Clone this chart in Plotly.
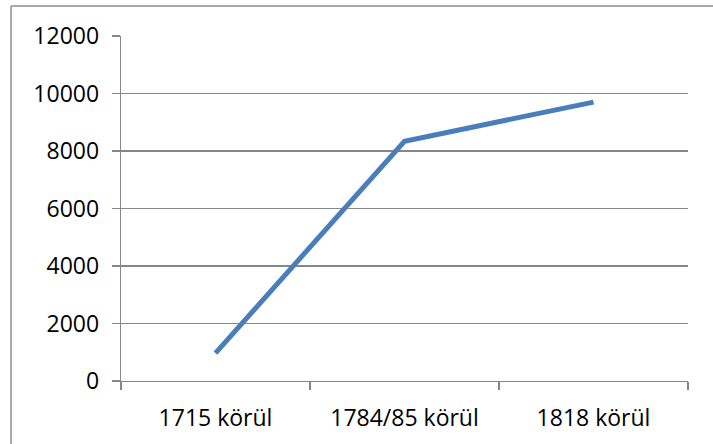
import plotly.graph_objects as go

categories = ["1715 körül", "1784/85 körül", "1818 körül"]
values = [970, 8340, 9700]
y_ticks = [0, 2000, 4000, 6000, 8000, 10000, 12000]

W, H = 713, 444
L, R, T, B = 121, 25, 36, 63
pw, ph = W - L - R, H - T - B

fig = go.Figure()
fig.add_trace(go.Scatter(
    x=categories, y=values, mode="lines",
    line=dict(color="#4A7EBB", width=5),
    hoverinfo="skip", showlegend=False,
))

grid = "#878787"
fig.update_layout(
    width=W, height=H,
    margin=dict(l=L, r=R, t=T, b=B, pad=0),
    paper_bgcolor="white", plot_bgcolor="white",
    font=dict(family="Open Sans", size=23, color="black"),
    showlegend=False,
    xaxis=dict(
        type="category", range=[-0.5, 2.5],
        tickson="boundaries", ticks="outside", ticklen=8, tickwidth=1.3,
        tickcolor=grid, showline=True, linecolor=grid, linewidth=1.3,
        showgrid=False, zeroline=False, ticklabelstandoff=16,
    ),
    yaxis=dict(
        range=[0, 12000], tickvals=y_ticks,
        ticktext=[str(v) for v in y_ticks],
        ticks="outside", ticklen=8, tickwidth=1.3, tickcolor=grid,
        showline=True, linecolor=grid, linewidth=1.3,
        showgrid=True, gridcolor=grid, gridwidth=1.3, zeroline=False,
        ticklabelstandoff=8,
    ),
    shapes=[
        dict(type="line", xref="paper", yref="paper",
             x0=(11 - L) / pw, x1=(W + 20 - L) / pw,
             y0=(H - B - 6) / ph, y1=(H - B - 6) / ph,
             line=dict(color="#8c8c8c", width=1.5)),
        dict(type="line", xref="paper", yref="paper",
             x0=(11 - L) / pw, x1=(11 - L) / pw,
             y0=(H - B - 6) / ph, y1=(H - B - H - 20) / ph,
             line=dict(color="#8c8c8c", width=1.5)),
    ],
)

fig.write_html("out.html",
               config={"displayModeBar": False, "staticPlot": True},
               post_script="document.body.style.margin='0';document.body.style.overflow='hidden';")
